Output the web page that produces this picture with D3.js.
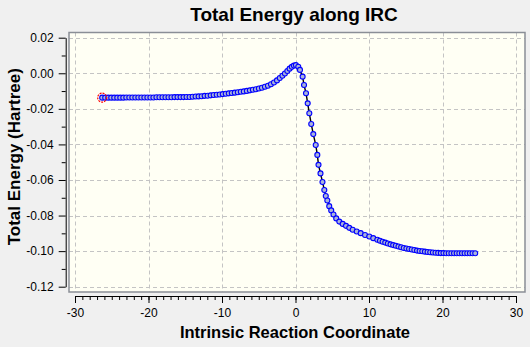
<!DOCTYPE html>
<html>
<head>
<meta charset="utf-8">
<script src="https://cdn.jsdelivr.net/npm/d3@7"></script>
<style>
  html, body { margin: 0; padding: 0; background: #f0f0f0; }
  svg { display: block; }
  text { font-family: "Liberation Sans", Arial, sans-serif; fill: #000; }
</style>
</head>
<body>
<svg id="chart" width="530" height="347"></svg>
<script>
// IRC path: reaction coordinate and total energy (Hartree, relative)
const irc = [
  -26.30, -25.89, -25.48, -25.07, -24.66, -24.25, -23.84, -23.43, -23.02, -22.61,
  -22.20, -21.79, -21.38, -20.97, -20.56, -20.15, -19.74, -19.33, -18.92, -18.51,
  -18.10, -17.69, -17.28, -16.87, -16.46, -16.05, -15.64, -15.23, -14.82, -14.41,
  -14.00, -13.59, -13.18, -12.77, -12.36, -11.95, -11.54, -11.13, -10.72, -10.31,
  -9.90, -9.49, -9.08, -8.67, -8.26, -7.85, -7.44, -7.03, -6.62, -6.21,
  -5.80, -5.39, -4.98, -4.57, -4.16, -3.75, -3.34, -2.93, -2.52, -2.14,
  -1.78, -1.44, -1.11, -0.80, -0.50, -0.22, 0.05,
  0.38, 0.61, 0.97, 1.16, 1.43, 1.66, 1.88, 2.14, 2.42, 2.75,
  2.97, 3.13, 3.40, 3.67, 3.92, 4.12, 4.33, 4.59, 4.86, 5.17,
  5.54, 5.96, 6.42, 6.87, 7.32, 7.78, 8.33, 8.87, 9.46, 10.04,
  10.58, 11.13, 11.49, 11.85, 12.21, 12.57, 12.93, 13.29, 13.65, 14.01,
  14.37, 14.73, 15.09, 15.45, 15.81, 16.17, 16.53, 16.89, 17.25, 17.61,
  17.97, 18.33, 18.69, 19.05, 19.41, 19.77, 20.13, 20.49, 20.85, 21.21,
  21.57, 21.93, 22.29, 22.65, 23.01, 23.37, 23.73, 24.09, 24.45
];
const energy = [
  -0.0137, -0.0137, -0.0137, -0.0137, -0.0137, -0.0137, -0.0137, -0.0137, -0.0136, -0.0136,
  -0.0136, -0.0136, -0.0136, -0.0136, -0.0136, -0.0136, -0.0136, -0.0136, -0.0135, -0.0135,
  -0.0135, -0.0135, -0.0135, -0.0135, -0.0134, -0.0134, -0.0134, -0.0134, -0.0133, -0.0133,
  -0.0132, -0.0131, -0.0130, -0.0129, -0.0127, -0.0126, -0.0124, -0.0122, -0.0121, -0.0119,
  -0.0117, -0.0115, -0.0113, -0.0111, -0.0109, -0.0107, -0.0104, -0.0102, -0.0099, -0.0096,
  -0.0093, -0.0090, -0.0086, -0.0081, -0.0076, -0.0070, -0.0062, -0.0052, -0.0040, -0.0027,
  -0.0014, -0.0001, 0.0013, 0.0026, 0.0036, 0.0043, 0.0046,
  0.0037, 0.0019, -0.0019, -0.0066, -0.0112, -0.0169, -0.0225, -0.0285, -0.0342, -0.0403,
  -0.0459, -0.0515, -0.0563, -0.0611, -0.0656, -0.0690, -0.0715, -0.0747, -0.0771, -0.0794,
  -0.0816, -0.0834, -0.0847, -0.0858, -0.0869, -0.0880, -0.0890, -0.0899, -0.0909, -0.0918,
  -0.0927, -0.0936, -0.0942, -0.0947, -0.0952, -0.0957, -0.0962, -0.0966, -0.0970, -0.0974,
  -0.0978, -0.0982, -0.0985, -0.0988, -0.0991, -0.0994, -0.0997, -0.0999, -0.1001, -0.1003,
  -0.1005, -0.1006, -0.1008, -0.1009, -0.1010, -0.1011, -0.1011, -0.1012, -0.1012, -0.1012,
  -0.1012, -0.1012, -0.1012, -0.1012, -0.1012, -0.1012, -0.1012, -0.1012, -0.1012
];

// axis ticks
const xMajorTicks = [-30, -20, -10, 0, 10, 20, 30];
const xMinorTicks = d3.range(-30, 31, 1);
const yMajorTicks = [-0.12, -0.10, -0.08, -0.06, -0.04, -0.02, 0.00, 0.02];
const yMinorTicks = [-0.11, -0.09, -0.07, -0.05, -0.03, -0.01, 0.01];

const titleText = "Total Energy along IRC";
const xTitleText = "Intrinsic Reaction Coordinate";
const yTitleText = "Total Energy (Hartree)";

const points = irc.map((x, i) => ({ x, e: energy[i] }));

const svg = d3.select("#chart");

const x = d3.scaleLinear().domain([-30, 30]).range([75, 516]);
const y = d3.scaleLinear().domain([-0.12, 0.02]).range([286.7, 37.7]);

// plot panel
const panel = { left: 69, top: 32.5, right: 525, bottom: 292 };
svg.append("rect")
  .attr("x", panel.left).attr("y", panel.top)
  .attr("width", panel.right - panel.left)
  .attr("height", panel.bottom - panel.top)
  .attr("fill", "#fffff4");

// dashed grid
const grid = svg.append("g")
  .attr("stroke", "#c4c4c4")
  .attr("stroke-width", 1)
  .attr("stroke-dasharray", "4,3");
grid.selectAll("line.v").data(xMajorTicks).join("line")
  .attr("class", "v")
  .attr("x1", d => Math.round(x(d)) + 0.5).attr("x2", d => Math.round(x(d)) + 0.5)
  .attr("y1", panel.top).attr("y2", panel.bottom);
grid.selectAll("line.h").data(yMajorTicks).join("line")
  .attr("class", "h")
  .attr("y1", d => Math.round(y(d)) + 0.5).attr("y2", d => Math.round(y(d)) + 0.5)
  .attr("x1", panel.left).attr("x2", panel.right);

// panel border
svg.append("rect")
  .attr("x", panel.left).attr("y", panel.top)
  .attr("width", panel.right - panel.left)
  .attr("height", panel.bottom - panel.top)
  .attr("fill", "none")
  .attr("stroke", "#8a8e96")
  .attr("stroke-width", 1.5);

// energy profile
const line = d3.line().x(d => x(d.x)).y(d => y(d.e));
svg.append("path")
  .datum(points)
  .attr("d", line)
  .attr("fill", "none")
  .attr("stroke", "#000")
  .attr("stroke-width", 1.4);

svg.append("g").selectAll("circle").data(points).join("circle")
  .attr("cx", d => x(d.x))
  .attr("cy", d => y(d.e))
  .attr("r", 2.5)
  .attr("fill", "#aab4d8")
  .attr("stroke", "#0000ff")
  .attr("stroke-width", 1.1);

// highlighted current point
svg.append("circle")
  .attr("cx", x(points[0].x))
  .attr("cy", y(points[0].e))
  .attr("r", 4.5)
  .attr("fill", "none")
  .attr("stroke", "#ff0000")
  .attr("stroke-width", 1.2)
  .attr("stroke-dasharray", "2,1");

// x axis (detached below the panel)
const xAxisY = 296;
const xAxisG = svg.append("g").attr("transform", `translate(0,${xAxisY})`);
xAxisG.append("g")
  .call(d3.axisBottom(x).tickValues(xMinorTicks).tickSize(4).tickSizeOuter(0).tickFormat(""))
  .call(g => g.select(".domain").remove());
xAxisG.append("g")
  .call(d3.axisBottom(x).tickValues(xMajorTicks).tickSize(7).tickSizeOuter(0).tickPadding(5)
    .tickFormat(d => String(d)));
xAxisG.selectAll("line, path").attr("stroke", "#000");
xAxisG.selectAll("text")
  .attr("font-size", 12)
  .style("font-family", "'Liberation Sans', Arial, sans-serif");

// y axis (detached left of the panel)
const yAxisX = 65.7;
const yAxisG = svg.append("g").attr("transform", `translate(${yAxisX},0)`);
yAxisG.append("g")
  .call(d3.axisLeft(y).tickValues(yMinorTicks).tickSize(4).tickSizeOuter(0).tickFormat(""))
  .call(g => g.select(".domain").remove());
yAxisG.append("g")
  .call(d3.axisLeft(y).tickValues(yMajorTicks).tickSize(7).tickSizeOuter(0).tickPadding(5)
    .tickFormat(d => d.toFixed(2)));
yAxisG.selectAll("line, path").attr("stroke", "#000");
yAxisG.selectAll("text")
  .attr("font-size", 12)
  .style("font-family", "'Liberation Sans', Arial, sans-serif");

// titles
svg.append("text")
  .attr("x", 294).attr("y", 20.7)
  .attr("text-anchor", "middle")
  .attr("font-size", 19).attr("font-weight", "bold")
  .text(titleText);

svg.append("text")
  .attr("x", 295).attr("y", 338.3)
  .attr("text-anchor", "middle")
  .attr("font-size", 16.5).attr("font-weight", "bold")
  .text(xTitleText);

svg.append("text")
  .attr("transform", "translate(19.5,156.7) rotate(-90)")
  .attr("text-anchor", "middle")
  .attr("font-size", 17).attr("font-weight", "bold")
  .text(yTitleText);
</script>
</body>
</html>
